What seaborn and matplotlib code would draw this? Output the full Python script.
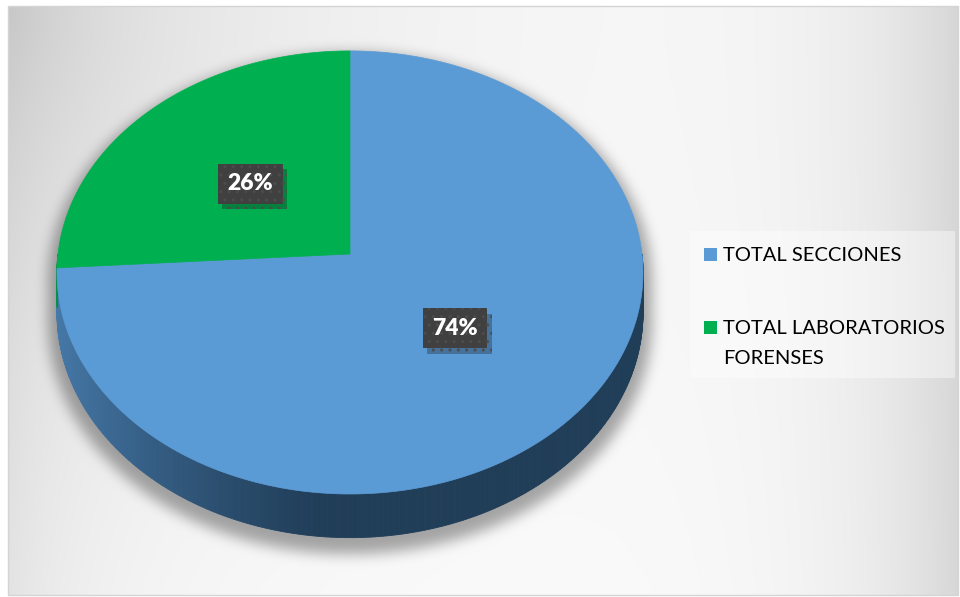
"""
3D pie: secciones vs laboratorios forenses
"""
import numpy as np
import matplotlib
matplotlib.use("Agg")
import matplotlib.pyplot as plt
import seaborn as sns
import matplotlib.patheffects as pe
from matplotlib.path import Path
from matplotlib.patches import Rectangle, Polygon
from matplotlib.collections import PolyCollection
from matplotlib.colors import to_rgb

# data
categories = ["TOTAL SECCIONES", "TOTAL LABORATORIOS\nFORENSES"]
values = [74, 26]
colors = ["#5B9BD5", "#00B050"]
side_light = ["#4679A9", "#00923F"]
side_dark = ["#213E59", "#00602A"]

sns.set_theme(style="white")
plt.rcParams['font.family'] = ['Lato', 'DejaVu Sans']

# canvas in pixel units
W, H = 960, 597
CX, CY = 350, 254
RX, RY = 292, 220
DEPTH = 40
D = 12.0


def project(phi_deg, r=1.0, h=0.0):
    # phi measured clockwise from 12 o'clock, simple perspective tilt
    phi = np.radians(phi_deg)
    X = r * np.sin(phi)
    Z = -r * np.cos(phi)
    s = D / (D - Z)
    return CX + RX * X * s, CY + RY * Z * s + DEPTH * h * s


def box_blur(a, r):
    k = 2 * r + 1
    for axis in (0, 1):
        pad = [(0, 0), (0, 0)]
        pad[axis] = (r + 1, r)
        p = np.pad(a, pad, mode='edge')
        c = np.cumsum(p, axis=axis)
        if axis == 0:
            a = (c[k:] - c[:-k]) / k
        else:
            a = (c[:, k:] - c[:, :-k]) / k
    return a


fracs = np.array(values, dtype=float) / sum(values)
ends = 360 * np.cumsum(fracs)
starts = np.concatenate([[0], ends[:-1]])

# ---------- background gradient + soft shadow ----------
yy, xx = np.mgrid[0:H, 0:W] + 0.5
d_tl = np.hypot(xx - 8, yy - 6)
g = (1 - 0.14 * np.exp(-d_tl / 380)
     - 0.15 * np.exp(-(958 - xx) / 110)
     - 0.08 * np.exp(-(xx - 8) / 90))

pts = np.column_stack([xx.ravel(), yy.ravel()])
mask = np.zeros(H * W, dtype=bool)
ang = np.linspace(0, 360, 361)
for h in np.linspace(0, 1, 6):
    ox, oy = project(ang, 1.0, h)
    ox = CX + (ox - CX) * 1.03
    oy = CY + (oy - CY) * 1.03 + 8
    mask |= Path(np.column_stack([ox, oy])).contains_points(pts)
shadow = mask.reshape(H, W).astype(float)
for _ in range(3):
    shadow = box_blur(shadow, 6)
g = g * (1 - 0.34 * shadow)

inside = (xx > 8) & (xx < 958) & (yy > 6) & (yy < 595)
g = np.where(inside, g, 1.0)
bg = np.dstack([g, g, g]).clip(0, 1)

fig = plt.figure(figsize=(W / 100, H / 100), dpi=100)
ax = fig.add_axes([0, 0, 1, 1])
ax.imshow(bg, extent=(0, W, H, 0), interpolation='none', zorder=0)
ax.add_patch(Rectangle((8, 6), 950, 589, fill=False, ec='#D4D4D4', lw=1, zorder=1))

# ---------- side wall (front half only) ----------
quads, qcols = [], []
step = 0.5
for p0 in np.arange(90, 270, step):
    p1 = p0 + step
    pm = p0 + step / 2
    i = int(np.searchsorted(ends, pm % 360))
    X = np.sin(np.radians(pm))
    t = np.clip((-X - 0.1) / 0.9, 0, 1) ** 1.2
    c = np.array(to_rgb(side_dark[i])) + t * (np.array(to_rgb(side_light[i])) - np.array(to_rgb(side_dark[i])))
    xa, ya = project(p0, 1, 0)
    xb, yb = project(p1, 1, 0)
    xc, yc = project(p1, 1, 1)
    xd, yd = project(p0, 1, 1)
    quads.append([(xa, ya), (xb, yb), (xc, yc), (xd, yd)])
    qcols.append(c)
ax.add_collection(PolyCollection(quads, facecolors=qcols, edgecolors=qcols, linewidths=0.6, zorder=2))

# ---------- top face ----------
for s0, e0, col in zip(starts, ends, colors):
    a = np.linspace(s0, e0, int((e0 - s0) * 2) + 2)
    ax_, ay_ = project(a, 1, 0)
    verts = [(CX, CY)] + list(zip(ax_, ay_))
    ax.add_patch(Polygon(verts, closed=True, fc=col, ec=col, lw=0.5, zorder=3))

# ---------- data labels ----------
for s0, e0, v in zip(starts, ends, values):
    mid = (s0 + e0) / 2
    lx, ly = project(mid, 0.48, 0)
    txt = f"{v / sum(values) * 100:.0f}%"
    t = ax.text(lx, ly, txt, fontsize=16.5, fontweight='heavy', color='white',
                ha='center', va='center', zorder=5,
                bbox=dict(boxstyle='square,pad=0.42', fc='#404040', ec='#4C4C4C', lw=0, hatch='..'))
    t.get_bbox_patch().set_path_effects([pe.SimplePatchShadow(offset=(3, -4), alpha=0.3), pe.Normal()])

# ---------- legend ----------
ax.add_patch(Rectangle((690, 231), 265, 147, fc='white', alpha=0.42, ec='none', zorder=3))
leg_y = [261, 334]
for cat, col, by in zip(categories, colors, leg_y):
    ax.add_patch(Rectangle((704, by - 13), 13, 13, fc=col, ec='none', zorder=4))
    for k, line in enumerate(cat.split("\n")):
        ax.text(723, by + k * 30, line, fontsize=14.5, color='black',
                ha='left', va='baseline', zorder=4)

ax.set_xlim(0, W)
ax.set_ylim(H, 0)
ax.axis('off')
fig.savefig('out.png', dpi=100)
